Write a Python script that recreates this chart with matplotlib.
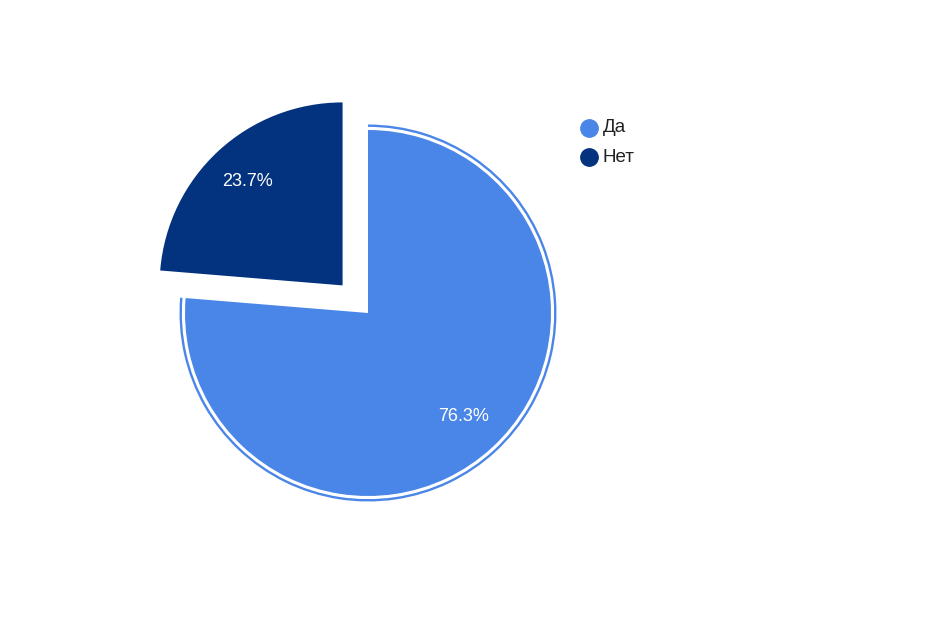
import matplotlib
matplotlib.use("Agg")
import matplotlib.pyplot as plt
from matplotlib.patches import Wedge

labels = ['Да', 'Нет']
values = [76.3, 23.7]
colors = ['#4a86e8', '#03327e']
explode = [0, 0.205]

plt.rcParams['font.family'] = ['Liberation Sans', 'DejaVu Sans']

W, H = 940, 625
cx, cy, R = 368, 313, 183  # pie centre and radius in pixels

fig = plt.figure(figsize=(W / 100, H / 100), dpi=100)
ax = fig.add_axes([0, 0, 1, 1])

wedges, texts, autotexts = ax.pie(
    values, colors=colors, explode=explode, startangle=90, counterclock=False,
    autopct='%1.1f%%', pctdistance=0.77, radius=1,
    textprops={'color': 'white', 'fontsize': 13})

# thin selection ring around the first slice
w0 = wedges[0]
ax.add_patch(Wedge(w0.center, 1.03, w0.theta1, w0.theta2, width=0.013,
                   facecolor=colors[0], edgecolor='none'))

ax.set_xlim(-cx / R, (W - cx) / R)
ax.set_ylim(-(H - cy) / R, cy / R)
ax.set_aspect('auto')
ax.axis('off')

# legend
for i, (name, col) in enumerate(zip(labels, colors)):
    y = 1 - (128 + 29 * i) / H
    fig.lines.append(plt.Line2D([589 / W], [y], marker='o', markersize=12.5,
                                color=col, transform=fig.transFigure))
    fig.text(603 / W, y, name, fontsize=13.5, color='#222222',
             va='center', ha='left')

fig.savefig('out.png', dpi=100)
